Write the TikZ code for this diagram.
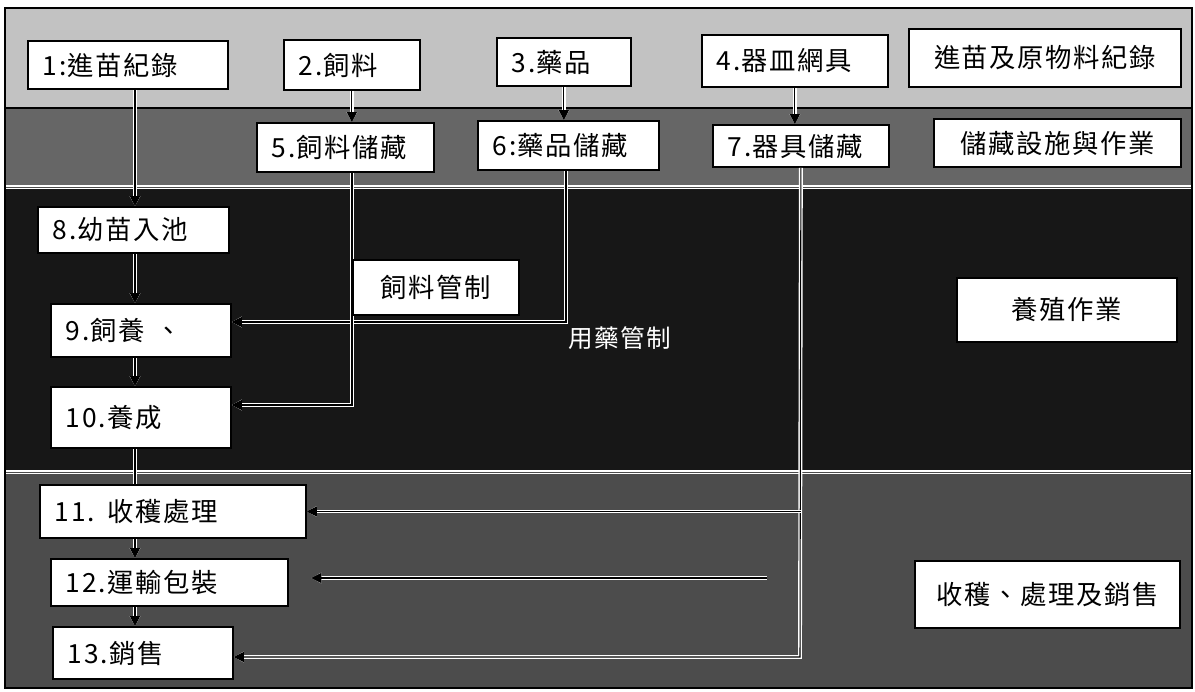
\documentclass[tikz,border=0pt]{standalone}
\usepackage{fontspec}
\newfontfamily\cjk[LetterSpace=6]{Noto Sans CJK TC}
\usetikzlibrary{arrows.meta, positioning, calc}
\definecolor{bandone}{gray}{0.76}
\definecolor{bandtwo}{gray}{0.40}
\definecolor{bandthree}{gray}{0.09}
\definecolor{bandfour}{gray}{0.30}

\begin{document}
\begin{tikzpicture}[>={Triangle[length=2mm, width=2mm]},
  stepbox/.style={draw=black, fill=white, line width=1pt, align=left, anchor=west,
    inner xsep=0.3cm, inner ysep=0pt, font=\cjk\fontsize{15pt}{18pt}\selectfont},
  titlebox/.style={draw=black, fill=white, line width=1pt, align=center,
    inner sep=0pt, font=\cjk\fontsize{15pt}{18pt}\selectfont},
  flow/.style={->, line width=0.6pt, preaction={draw=white, line width=2.2pt}}]

\useasboundingbox (0,0) rectangle (23.9,13.82);
\fill[white] (0,0) rectangle (23.9,13.82);

% Bands
\fill[bandone] (0.10,11.66) rectangle (23.84,13.66);
\fill[bandtwo] (0.10,10.08) rectangle (23.84,11.66);
\fill[bandthree] (0.10,4.38) rectangle (23.84,10.08);
\fill[bandfour] (0.10,0.06) rectangle (23.84,4.38);
\draw[line width=1pt] (0.10,11.66) -- (23.84,11.66);
\foreach \y in {10.08,4.38} {
  \draw[white, line width=2pt] (0.10,\y) -- (23.84,\y);
  \draw[black!70, line width=0.4pt] (0.10,\y) -- (23.84,\y);
}
\draw[line width=1pt] (0.10,0.06) rectangle (23.84,13.66);

% Row 1: records
\node[stepbox, text width=3.4cm, minimum height=0.96cm] (n1) at (0.54,12.52) {1:進苗紀錄};
\node[stepbox, text width=2.12cm, minimum height=1.0cm] (n2) at (5.66,12.52) {2.飼料};
\node[stepbox, text width=2.08cm, minimum height=0.96cm] (n3) at (9.92,12.58) {3.藥品};
\node[stepbox, text width=3.12cm, minimum height=1.04cm] (n4) at (14.02,12.60) {4.器皿網具};
\node[titlebox, minimum width=5.44cm, minimum height=1.16cm] (rawrec) at (20.90,12.66) {進苗及原物料紀錄};

% Row 2: storage
\node[stepbox, text width=2.94cm, minimum height=0.98cm] (n5) at (5.12,10.87) {5.飼料儲藏};
\node[stepbox, text width=3.02cm, minimum height=0.98cm] (n6) at (9.54,10.91) {6:藥品儲藏};
\node[stepbox, text width=2.92cm, minimum height=0.84cm] (n7) at (14.24,10.90) {7.器具儲藏};
\node[titlebox, minimum width=4.94cm, minimum height=0.96cm] (storage) at (21.15,10.96) {儲藏設施與作業};

% Row 3: culture
\node[stepbox, text width=3.22cm, minimum height=0.92cm] (n8) at (0.74,9.22) {8.幼苗入池};
\node[stepbox, text width=3.0cm, minimum height=1.06cm] (n9) at (1.00,7.21) {9.飼養\hspace{0.4em}、};
\node[stepbox, text width=3.0cm, minimum height=1.22cm] (n10) at (1.00,5.47) {10.養成};
\node[titlebox, minimum width=4.40cm, minimum height=1.28cm] (culture) at (21.34,7.62) {養殖作業};

% Row 4: harvest
\node[stepbox, text width=4.72cm, minimum height=1.06cm] (n11) at (0.78,3.59) {11. 收穫處理};
\node[stepbox, text width=4.14cm, minimum height=0.94cm] (n12) at (1.00,2.17) {12.運輸包裝};
\node[stepbox, text width=3.0cm, minimum height=1.04cm] (n13) at (1.04,0.76) {13.銷售};
\node[titlebox, minimum width=5.30cm, minimum height=1.34cm] (harvest) at (20.95,1.93) {收穫、處理及銷售};

% Main flow
\coordinate (trunk) at (2.70,0);
\draw[flow] (n1.south -| trunk) -- (n8.north -| trunk);
\foreach \a/\b in {n8/n9, n9/n10, n11/n12, n12/n13}
  \draw[flow] (\a.south -| trunk) -- (\b.north -| trunk);
\draw[flow, -] (n10.south -| trunk) -- (n11.north -| trunk);

% Into storage
\draw[flow] (n2.south) -- (n2.south |- n5.north);
\draw[flow] (n3.south) -- (n3.south |- n6.north);
\draw[flow] (n4.south) -- (n4.south |- n7.north);

% Feed and drug control
\coordinate (feedturn) at (7.04,5.72);
\coordinate (drugturn) at (11.32,7.38);
\draw[flow] (n6.south -| drugturn) -- (drugturn) -- (drugturn -| n9.east);
\draw[flow] (n5.south -| feedturn) -- (feedturn) -- (feedturn -| n10.east);
\node[titlebox, minimum width=3.32cm, minimum height=1.10cm, anchor=west] (feedctl) at (7.04,8.07) {飼料管制};
\node[text=white, font=\cjk\fontsize{14pt}{16pt}\selectfont] (drugctl) at (12.40,7.06) {用藥管制};

% Tools to harvest
\coordinate (toolturn) at (16.00,0.68);
\coordinate (packstart) at (15.34,2.26);
\draw[flow] (n7.south) -- (toolturn) -- (toolturn -| n13.east);
\draw[flow] (n7.south |- n11.east) -- (n11.east);
\draw[flow, shorten >=0.45cm] (packstart) -- (packstart -| n12.east);

\end{tikzpicture}
\end{document}
